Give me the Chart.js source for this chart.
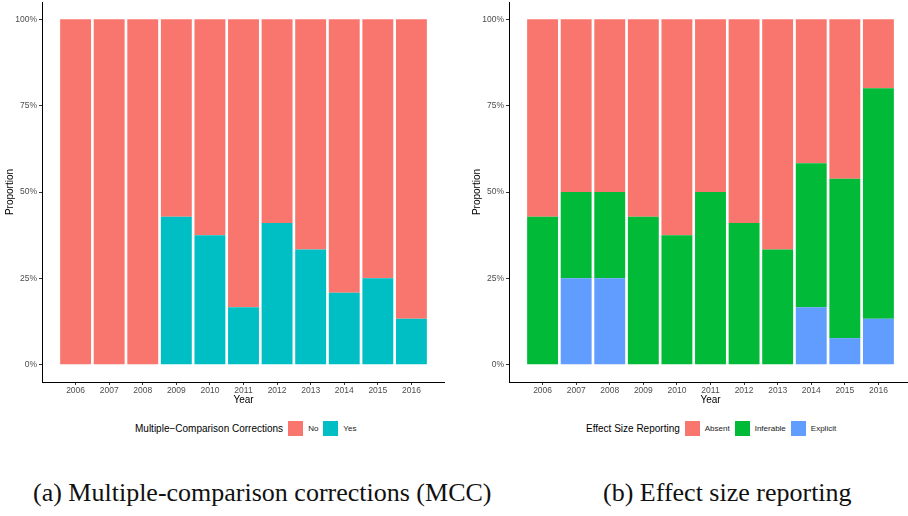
<!DOCTYPE html>
<html>
<head>
<meta charset="utf-8">
<script src="https://cdn.jsdelivr.net/npm/chart.js@4.4.0/dist/chart.umd.min.js"></script>
<style>
  body { margin: 0; width: 908px; height: 516px; overflow: hidden; background: #fff; position: relative; font-family: "Liberation Sans", Arial, sans-serif; }
  canvas { position: absolute; top: 0; }
  .legend { position: absolute; top: 421px; height: 15px; display: flex; align-items: center; font-size: 8px; color: #222; white-space: nowrap; }
  .legend .title { font-size: 10px; color: #000; margin-right: 5px; }
  .legend .sw { width: 15px; height: 15px; margin-right: 5px; }
  .legend .lab { margin-right: 5px; }
  .cap { position: absolute; top: 478px; font-family: "Liberation Serif", serif; font-size: 26px; color: #111; white-space: nowrap; }
</style>
</head>
<body>
<canvas id="mccChart" width="445" height="410" style="left:0"></canvas>
<canvas id="esChart" width="445" height="410" style="left:467px"></canvas>

<div class="legend" style="left:135px">
  <span class="title">Multiple&minus;Comparison Corrections</span>
  <span class="sw" style="background:#F8766D"></span><span class="lab">No</span>
  <span class="sw" style="background:#00BFC4"></span><span class="lab">Yes</span>
</div>
<div class="legend" style="left:586px">
  <span class="title">Effect Size Reporting</span>
  <span class="sw" style="background:#F8766D"></span><span class="lab">Absent</span>
  <span class="sw" style="background:#00BA38"></span><span class="lab">Inferable</span>
  <span class="sw" style="background:#619CFF"></span><span class="lab">Explicit</span>
</div>

<div class="cap" style="left:33px">(a) Multiple-comparison corrections (MCC)</div>
<div class="cap" style="left:603px">(b) Effect size reporting</div>

<script>
const years = ['2006', '2007', '2008', '2009', '2010', '2011', '2012', '2013', '2014', '2015', '2016'];
const yTicks = [0, 0.25, 0.5, 0.75, 1];

// proportions per year
const mccYes = [0, 0, 0, 0.4286, 0.375, 0.1667, 0.41, 0.3333, 0.2083, 0.25, 0.1333];
const mccNo = [1, 1, 1, 0.5714, 0.625, 0.8333, 0.59, 0.6667, 0.7917, 0.75, 0.8667];

const esExplicit = [0, 0.25, 0.25, 0, 0, 0, 0, 0, 0.1667, 0.0769, 0.1333];
const esInferable = [0.4286, 0.25, 0.25, 0.4286, 0.375, 0.5, 0.41, 0.3333, 0.4167, 0.4615, 0.6667];
const esAbsent = [0.5714, 0.5, 0.5, 0.5714, 0.625, 0.5, 0.59, 0.6667, 0.4167, 0.4615, 0.2];

function makeChart(id, series) {
    const ctx = document.getElementById(id).getContext('2d');
    return new Chart(ctx, {
        type: 'bar',
        data: {
            datasets: series.map(s => ({
                label: s.label,
                data: s.data.map((v, i) => ({ x: i + 1, y: v })),
                backgroundColor: s.color,
                borderWidth: 0,
                barPercentage: 0.92,
                categoryPercentage: 1
            }))
        },
        options: {
            responsive: false,
            animation: false,
            devicePixelRatio: 1,
            layout: { padding: { top: 2, left: 0, right: 0, bottom: 0 } },
            plugins: {
                legend: { display: false },
                tooltip: { enabled: false }
            },
            scales: {
                x: {
                    type: 'linear',
                    min: 0,
                    max: 12,
                    stacked: true,
                    offset: false,
                    grid: { offset: false, drawOnChartArea: false, drawTicks: true, tickLength: 3, color: '#333' },
                    border: { display: true, color: '#000', width: 1 },
                    ticks: {
                        stepSize: 1,
                        autoSkip: false,
                        maxRotation: 0,
                        padding: 1,
                        color: '#4d4d4d',
                        font: { family: 'Liberation Sans', size: 8.5 },
                        callback: v => years[v - 1] || ''
                    },
                    afterBuildTicks: s => { s.ticks = s.ticks.filter(t => t.value >= 1 && t.value <= 11); },
                    afterFit: s => { s.height = 28; s.paddingLeft = 0; s.paddingRight = 0; },
                    title: {
                        display: true, text: 'Year', color: '#000',
                        font: { family: 'Liberation Sans', size: 10 },
                        padding: { top: 0, bottom: 4 }
                    }
                },
                y: {
                    min: -0.05,
                    max: 1.05,
                    stacked: true,
                    grid: { drawOnChartArea: false, drawTicks: true, tickLength: 3, color: '#333' },
                    border: { display: true, color: '#000', width: 1 },
                    ticks: {
                        padding: 2,
                        color: '#4d4d4d',
                        font: { family: 'Liberation Sans', size: 8.5 },
                        callback: v => Math.round(v * 100) + '%'
                    },
                    afterBuildTicks: s => { s.ticks = yTicks.map(v => ({ value: v })); },
                    afterFit: s => { s.width = 42; s.paddingTop = 0; s.paddingBottom = 0; },
                    title: {
                        display: true, text: 'Proportion', color: '#000',
                        font: { family: 'Liberation Sans', size: 10 }
                    }
                }
            }
        }
    });
}

// first series sits at the bottom of each stack
makeChart('mccChart', [
    { label: 'Yes', data: mccYes, color: '#00BFC4' },
    { label: 'No', data: mccNo, color: '#F8766D' }
]);

makeChart('esChart', [
    { label: 'Explicit', data: esExplicit, color: '#619CFF' },
    { label: 'Inferable', data: esInferable, color: '#00BA38' },
    { label: 'Absent', data: esAbsent, color: '#F8766D' }
]);
</script>
</body>
</html>
